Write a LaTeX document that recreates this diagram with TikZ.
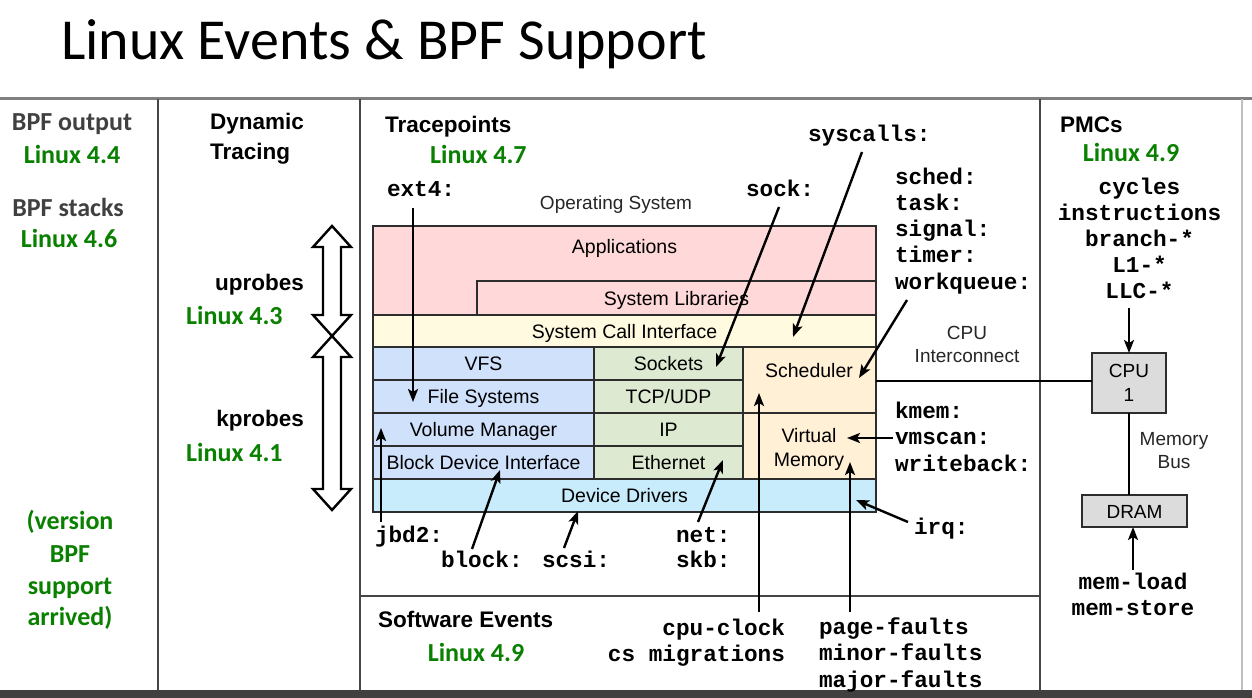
\documentclass[tikz,border=0pt]{standalone}
\usepackage{fontspec}
\setmainfont{Liberation Sans}
\newfontfamily\calfont{Carlito}
\newfontfamily\monofont{Liberation Mono}
\usetikzlibrary{arrows.meta}
\definecolor{grn}{RGB}{10,128,0}
\definecolor{dgray}{RGB}{64,64,64}
\definecolor{frameln}{RGB}{70,70,70}
\definecolor{boxline}{RGB}{45,45,45}
\definecolor{pinkf}{RGB}{255,217,217}
\definecolor{yellf}{RGB}{255,250,224}
\definecolor{bluef}{RGB}{208,225,251}
\definecolor{greenf}{RGB}{221,234,209}
\definecolor{orangef}{RGB}{255,240,214}
\definecolor{cyanf}{RGB}{200,236,251}
\definecolor{grayf}{RGB}{220,220,220}
\begin{document}
\begin{tikzpicture}[x=1pt,y=-1pt,
  mono/.style={font=\monofont\bfseries\fontsize{22.7}{26.3}\selectfont, inner sep=0pt, outer sep=0pt},
  grnlab/.style={font=\calfont\bfseries\fontsize{26}{32}\selectfont, text=grn, inner sep=0pt},
  leftlab/.style={font=\calfont\bfseries\fontsize{26}{32}\selectfont, text=dgray, inner sep=0pt},
  head/.style={font=\bfseries\fontsize{22.5}{29}\selectfont, inner sep=0pt},
  small/.style={font=\fontsize{19}{23}\selectfont, text=black!85, inner sep=0pt},
  layer/.style={draw=boxline, line width=1.4pt, inner sep=0pt, outer sep=0pt, anchor=north west,
     font=\fontsize{19.5}{23}\selectfont, text height=14pt, text depth=0pt},
  hwbox/.style={draw=boxline, line width=1.4pt, fill=grayf, inner sep=0pt, outer sep=0pt, anchor=north west,
     font=\fontsize{19}{23}\selectfont},
  evt/.style={-{Stealth[length=13pt,width=10pt,inset=3pt]}, line width=2.4pt},
  hollow/.style={draw=black, fill=white, line width=2.4pt, line join=miter},
  frame/.style={draw=frameln, line width=2pt},
]
\useasboundingbox (0,0) rectangle (1252,698);
\fill[white] (0,0) rectangle (1252,698);

% ---------- frame ----------
\draw[draw=black!50, line width=2.5pt] (0,98.5) -- (1252,98.5);
\draw[frame, line width=1.6pt] (158,99) -- (158,691);
\draw[frame] (360,99) -- (360,691);
\draw[frame] (1040,99) -- (1040,691);
\draw[frame] (360,595.5) -- (1040,595.5);
\draw[draw=black!25, line width=1.5pt] (1242,99) -- (1242,691);
\fill[black!75] (0,690) rectangle (1252,698);

% ---------- title ----------
\node[anchor=base west, inner sep=0pt, font=\calfont\fontsize{58}{66}\selectfont] (title) at (61,60) {Linux Events \& BPF Support};

% ---------- left column ----------
\node[leftlab, anchor=base] (bpfout) at (72,131) {BPF output};
\node[grnlab, anchor=base] (l44) at (72,163) {Linux 4.4};
\node[leftlab, anchor=base] (bpfstk) at (68,216) {BPF stacks};
\node[grnlab, anchor=base] (l46) at (69,247) {Linux 4.6};
\node[grnlab, anchor=base] (ver1) at (70,529) {(version};
\node[grnlab, anchor=base] (ver2) at (70,562) {BPF};
\node[grnlab, anchor=base] (ver3) at (70,594) {support};
\node[grnlab, anchor=base] (ver4) at (70,625) {arrived)};

% ---------- dynamic tracing ----------
\node[head, anchor=base west] (dyn1) at (210,130) {Dynamic};
\node[head, anchor=base west] (dyn2) at (210,159) {Tracing};
\node[head, anchor=base east] (uprobes) at (304,290) {uprobes};
\node[grnlab, anchor=base west] (l43) at (186,324) {Linux 4.3};
\node[head, anchor=base east] (kprobes) at (304,426) {kprobes};
\node[grnlab, anchor=base west] (l41) at (186,461) {Linux 4.1};

\draw[hollow] (332,226) -- (351,247) -- (341,247) -- (341,315) -- (351,315) -- (332,336)
  -- (313,315) -- (323,315) -- (323,247) -- (313,247) -- cycle;
\draw[hollow] (332,336) -- (351,357) -- (341,357) -- (341,489) -- (351,489) -- (332,510)
  -- (313,489) -- (323,489) -- (323,357) -- (313,357) -- cycle;

% ---------- tracepoints heading ----------
\node[head, anchor=base west] (tp) at (385,132) {Tracepoints};
\node[grnlab, anchor=base west] (l47) at (430,163) {Linux 4.7};
\node[small, anchor=base] (os) at (616,209) {Operating System};

% ---------- OS stack ----------
\node[layer, fill=pinkf, minimum width=503pt, minimum height=89pt] (apps) at (373,226) {};
\node[inner sep=0pt, font=\fontsize{19.5}{23}\selectfont, anchor=base] (appstxt) at (624.5,253) {Applications};
\node[layer, fill=pinkf, minimum width=399pt, minimum height=34pt] (syslib) at (477,281) {System Libraries};
\node[layer, fill=yellf, minimum width=503pt, minimum height=32pt] (sci) at (373,315) {System Call Interface};
\node[layer, fill=bluef, minimum width=221pt, minimum height=33pt] (vfs) at (373,347) {VFS};
\node[layer, fill=bluef, minimum width=221pt, minimum height=33pt] (fs) at (373,380) {File Systems};
\node[layer, fill=bluef, minimum width=221pt, minimum height=33pt] (volm) at (373,413) {Volume Manager};
\node[layer, fill=bluef, minimum width=221pt, minimum height=33pt] (bdi) at (373,446) {Block Device Interface};
\node[layer, fill=greenf, minimum width=149pt, minimum height=33pt] (sockets) at (594,347) {Sockets};
\node[layer, fill=greenf, minimum width=149pt, minimum height=33pt] (tcp) at (594,380) {TCP/UDP};
\node[layer, fill=greenf, minimum width=149pt, minimum height=33pt] (ip) at (594,413) {IP};
\node[layer, fill=greenf, minimum width=149pt, minimum height=33pt] (eth) at (594,446) {Ethernet};
\node[layer, fill=orangef, minimum width=133pt, minimum height=66pt] (sched) at (743,347) {};
\node[inner sep=0pt, font=\fontsize{19.5}{23}\selectfont, anchor=base] (schedtxt) at (809,377) {Scheduler};
\node[layer, fill=orangef, minimum width=133pt, minimum height=66pt] (vmem) at (743,413) {};
\node[inner sep=0pt, font=\fontsize{19.5}{23}\selectfont, anchor=base] (vmtxt1) at (809,442) {Virtual};
\node[inner sep=0pt, font=\fontsize{19.5}{23}\selectfont, anchor=base] (vmtxt2) at (809,466) {Memory};
\node[layer, fill=cyanf, minimum width=503pt, minimum height=33pt] (dd) at (373,479) {Device Drivers};

% ---------- tracepoint labels ----------
\node[mono, anchor=base west] (ext4) at (387,196) {ext4:};
\node[mono, anchor=base west] (sock) at (746,196) {sock:};
\node[mono, anchor=base west] (syscalls) at (808,141) {syscalls:};
\node[mono, anchor=base west] (tsched) at (895,184) {sched:};
\node[mono, anchor=base west] (ttask) at (895,210.3) {task:};
\node[mono, anchor=base west] (tsignal) at (895,236.6) {signal:};
\node[mono, anchor=base west] (ttimer) at (895,262.9) {timer:};
\node[mono, anchor=base west] (twq) at (895,289.2) {workqueue:};
\node[small, anchor=base] (cpuic1) at (967,339) {CPU};
\node[small, anchor=base] (cpuic2) at (967,362) {Interconnect};
\node[mono, anchor=base west] (kmem) at (895,418) {kmem:};
\node[mono, anchor=base west] (vmscan) at (895,444.5) {vmscan:};
\node[mono, anchor=base west] (wback) at (895,471) {writeback:};
\node[mono, anchor=base west] (irq) at (914,534) {irq:};
\node[mono, anchor=base west] (jbd2) at (375,542) {jbd2:};
\node[mono, anchor=base west] (block) at (441,567) {block:};
\node[mono, anchor=base west] (scsi) at (542,567) {scsi:};
\node[mono, anchor=base west] (net) at (676,542) {net:};
\node[mono, anchor=base west] (skb) at (676,567) {skb:};

% ---------- software events ----------
\node[head, anchor=base west] (swev) at (378,627) {Software Events};
\node[grnlab, anchor=base] (l49a) at (476,661) {Linux 4.9};
\node[mono, anchor=base east] (cpuclk) at (785,635) {cpu-clock};
\node[mono, anchor=base east] (csmig) at (785,661) {cs migrations};
\node[mono, anchor=base west] (pf) at (819,634) {page-faults};
\node[mono, anchor=base west] (minf) at (819,660) {minor-faults};
\node[mono, anchor=base west] (majf) at (819,687) {major-faults};

% ---------- PMCs ----------
\node[head, anchor=base west] (pmcs) at (1060,132) {PMCs};
\node[grnlab, anchor=base] (l49b) at (1131,161) {Linux 4.9};
\node[mono, anchor=base] (cyc) at (1139.5,194) {cycles};
\node[mono, anchor=base] (instr) at (1139.5,220) {instructions};
\node[mono, anchor=base] (branch) at (1139.5,246) {branch-*};
\node[mono, anchor=base] (lone) at (1139.5,272) {L1-*};
\node[mono, anchor=base] (llc) at (1139.5,298) {LLC-*};
\node[hwbox, minimum width=74pt, minimum height=60pt] (cpu) at (1092,353) {};
\node[inner sep=0pt, font=\fontsize{19}{23}\selectfont, anchor=base] (cputxt1) at (1129,377.5) {CPU};
\node[inner sep=0pt, font=\fontsize{19}{23}\selectfont, anchor=base] (cputxt2) at (1129,401) {1};
\node[hwbox, minimum width=105pt, minimum height=32pt] (dram) at (1082,495) {};
\node[inner sep=0pt, font=\fontsize{19}{23}\selectfont, anchor=base] (dramtxt) at (1134.5,518.5) {DRAM};
\node[small, anchor=base] (mb1) at (1174,445) {Memory};
\node[small, anchor=base] (mb2) at (1174,468) {Bus};
\node[mono, anchor=base] (memld) at (1133,589) {mem-load};
\node[mono, anchor=base] (memst) at (1133,615) {mem-store};

% ---------- connector end points ----------
\coordinate (a-ext4) at (413,208);   \coordinate (b-ext4) at (413,402);
\coordinate (a-sock) at (779,207);   \coordinate (b-sock) at (716,367);
\coordinate (a-sys) at (862,152);    \coordinate (b-sys) at (793,337);
\coordinate (a-wq) at (907,300);     \coordinate (b-wq) at (859,378);
\coordinate (a-vms) at (893,438);    \coordinate (b-vms) at (847,438);
\coordinate (a-irq) at (908,522);    \coordinate (b-irq) at (856,500);
\coordinate (a-jbd) at (381,522);    \coordinate (b-jbd) at (381,428);
\coordinate (a-blk) at (472,549);    \coordinate (b-blk) at (500,470);
\coordinate (a-scsi) at (564,548);   \coordinate (b-scsi) at (578,511);
\coordinate (a-net) at (698,522);    \coordinate (b-net) at (723,460);
\coordinate (a-clk) at (759,612);    \coordinate (b-clk) at (759,393);
\coordinate (a-pf) at (850,612);     \coordinate (b-pf) at (850,462);
\coordinate (a-mem) at (1133,570);

% ---------- connectors ----------
\draw[evt] (a-ext4) -- (b-ext4);
\draw[evt] (a-sock) -- (b-sock);
\draw[evt] (a-sys) -- (b-sys);
\draw[evt] (a-wq) -- (b-wq);
\draw[evt] (a-vms) -- (b-vms);
\draw[evt] (a-irq) -- (b-irq);
\draw[evt] (a-jbd) -- (b-jbd);
\draw[evt] (a-blk) -- (b-blk);
\draw[evt] (a-scsi) -- (b-scsi);
\draw[evt] (a-net) -- (b-net);
\draw[evt] (a-clk) -- (b-clk);
\draw[evt] (a-pf) -- (b-pf);

\draw[line width=2pt] (sched.east |- 0,381) -- (cpu.west |- 0,381);
\draw[evt] ([yshift=-10pt]llc.base -| cpu.north) -- (cpu.north);
\draw[line width=2pt] (cpu.south) -- (cpu.south |- dram.north);
\draw[evt] (a-mem) -- (a-mem |- dram.south);
\end{tikzpicture}
\end{document}
